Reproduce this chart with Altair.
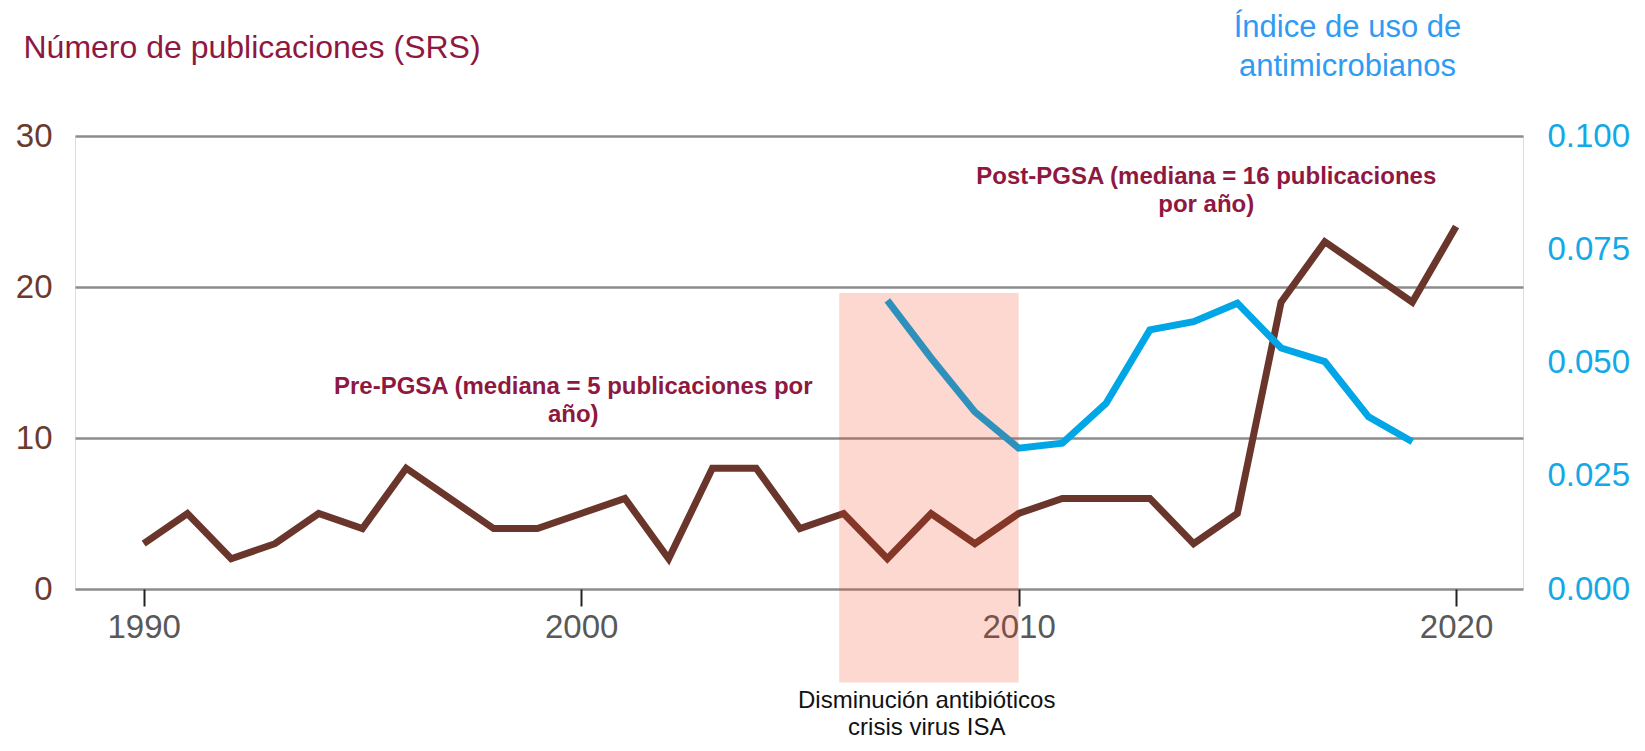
import altair as alt
import pandas as pd

# ---- data ----
years_pub = [1990, 1991, 1992, 1993, 1994, 1995, 1996, 1997, 1998, 1999,
             2000, 2001, 2002, 2003, 2004, 2005, 2006, 2007, 2008, 2009,
             2010, 2011, 2012, 2013, 2014, 2015, 2016, 2017, 2018, 2019, 2020]
pubs = [3, 5, 2, 3, 5, 4, 8, 6, 4, 4,
        5, 6, 2, 8, 8, 4, 5, 2, 5, 3,
        5, 6, 6, 6, 3, 5, 19, 23, 21, 19, 24]

years_amu = [2007, 2008, 2009, 2010, 2011, 2012, 2013, 2014, 2015, 2016, 2017, 2018, 2019]
amu = [0.0637, 0.051, 0.0391, 0.0311, 0.0322, 0.041, 0.0572, 0.059, 0.0631,
       0.0532, 0.0502, 0.038, 0.0325]

x_ticks = [1990, 2000, 2010, 2020]
left_ticks = [0, 10, 20, 30]
right_ticks = [0, 0.025, 0.05, 0.075, 0.1]

shade_start = [2005.9]
shade_end = [2010.0]
shade_top = [19.6]
shade_bottom = [-6.2]

ann_text = ["Pre-PGSA (mediana = 5 publicaciones por", "año)",
            "Post-PGSA (mediana = 16 publicaciones", "por año)"]
ann_x = [1999.82, 1999.82, 2014.29, 2014.29]
ann_y = [13.4, 11.5, 27.3, 25.4]

note_text = ["Disminución antibióticos", "crisis virus ISA"]
note_x = [2007.9, 2007.9]
note_y = [-7.45, -9.2]

left_title = "Número de publicaciones (SRS)"
right_title = ["Índice de uso de", "antimicrobianos"]

# ---- styling ----
FONT = "Liberation Sans, Arial, Helvetica, sans-serif"
BROWN = "#6A362B"
BLUE = "#00A6E6"
CRIMSON = "#8E1840"

pub_df = pd.DataFrame({"year": years_pub, "pubs": pubs})
amu_df = pd.DataFrame({"year": years_amu, "amu": amu})
shade_df = pd.DataFrame({"x1": shade_start, "x2": shade_end, "y1": shade_top, "y2": shade_bottom})
ann_df = pd.DataFrame({"text": ann_text, "x": ann_x, "y": ann_y})
note_df = pd.DataFrame({"text": note_text, "x": note_x, "y": note_y})

x_scale = alt.Scale(domain=[1988.43, 2021.53], nice=False, zero=False)
left_scale = alt.Scale(domain=[0, 30], nice=False, zero=False)
right_scale = alt.Scale(domain=[0, 0.1], nice=False, zero=False)

x_axis = alt.Axis(values=x_ticks, format="d", grid=False, domain=False,
                  ticks=True, tickSize=17, tickWidth=2, tickColor="#222222",
                  labelFont=FONT, labelFontSize=33, labelColor="#595959",
                  labelPadding=5, title=None)

left_axis = alt.Axis(values=left_ticks, format="d", grid=True, gridColor="#8C8C8C",
                     gridWidth=2.5, domain=False, ticks=False, labelPadding=23,
                     labelFont=FONT, labelFontSize=33, labelColor="#6B3A2E",
                     title=left_title, titleAngle=0, titleAlign="left",
                     titleBaseline="middle", titleX=-52, titleY=-89,
                     titleFont=FONT, titleFontSize=32, titleFontWeight="normal",
                     titleColor=CRIMSON)

right_axis = alt.Axis(orient="right", values=right_ticks, format=".3f", grid=False,
                      domain=False, ticks=False, labelPadding=24,
                      labelFont=FONT, labelFontSize=33, labelColor="#12A9E6",
                      title=right_title, titleAngle=0, titleAlign="center",
                      titleBaseline="middle", titleX=-176, titleY=-109,
                      titleLineHeight=39, titleFont=FONT, titleFontSize=31,
                      titleFontWeight="normal", titleColor="#2F9BF2")

brown = alt.Chart(pub_df).mark_line(color=BROWN, strokeWidth=7).encode(
    x=alt.X("year:Q", scale=x_scale, axis=x_axis),
    y=alt.Y("pubs:Q", scale=left_scale, axis=left_axis),
)

ann = alt.Chart(ann_df).mark_text(font=FONT, fontSize=24, fontWeight="bold",
                                  color=CRIMSON, align="center", baseline="middle").encode(
    x=alt.X("x:Q", scale=x_scale),
    y=alt.Y("y:Q", scale=left_scale),
    text="text:N",
)

note = alt.Chart(note_df).mark_text(font=FONT, fontSize=24, color="#111111",
                                    align="center", baseline="middle").encode(
    x=alt.X("x:Q", scale=x_scale),
    y=alt.Y("y:Q", scale=left_scale),
    text="text:N",
)

left_layer = alt.layer(brown, ann, note)

blue = alt.Chart(amu_df).mark_line(color=BLUE, strokeWidth=7).encode(
    x=alt.X("year:Q", scale=x_scale),
    y=alt.Y("amu:Q", scale=right_scale, axis=right_axis),
)

shade = alt.Chart(shade_df).mark_rect(color="#F03C14", opacity=0.2).encode(
    x=alt.X("x1:Q", scale=x_scale),
    x2="x2:Q",
    y=alt.Y("y1:Q", scale=alt.Scale(domain=[0, 30], nice=False, zero=False), axis=None),
    y2="y2:Q",
)

chart = alt.layer(left_layer, blue, shade).resolve_scale(y="independent").properties(
    width=1448,
    height=453,
    autosize=alt.AutoSizeParams(type="none"),
    padding={"left": 67, "top": 128, "right": 110, "bottom": 154},
).configure_view(stroke=None).configure(background="white")

chart.save("out.html", embed_options={"renderer": "svg", "actions": False})
